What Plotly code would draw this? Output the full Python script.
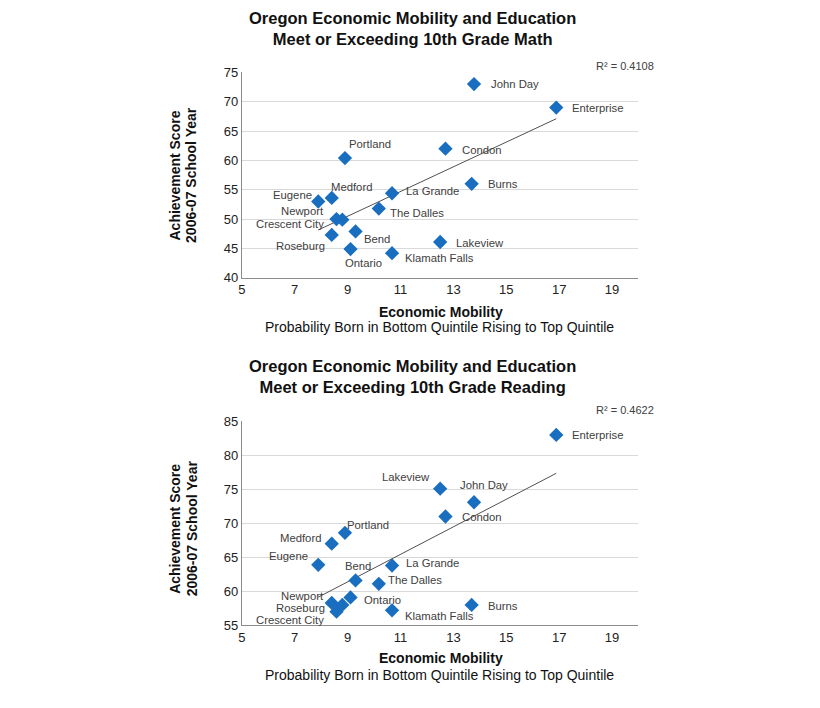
import numpy as np
import plotly.graph_objects as go

# ---------------- data ----------------
cities = ["John Day", "Enterprise", "Condon", "Portland", "Burns", "La Grande",
          "Medford", "Eugene", "The Dalles", "Newport", "Crescent City",
          "Roseburg", "Bend", "Ontario", "Klamath Falls", "Lakeview"]
mobility = [13.78, 16.89, 12.70, 8.90, 13.69, 10.68,
            8.40, 7.89, 10.18, 8.58, 8.80,
            8.40, 9.30, 9.11, 10.68, 12.50]
math_scores = [73.0, 69.0, 62.0, 60.4, 56.0, 54.4,
               53.6, 53.0, 51.8, 50.0, 49.9,
               47.3, 47.9, 44.9, 44.2, 46.1]
reading_scores = [73.1, 83.0, 71.0, 68.6, 58.0, 63.8,
                  67.0, 63.9, 61.1, 57.0, 58.0,
                  58.3, 61.6, 59.1, 57.2, 75.1]
x_ticks = [5, 7, 9, 11, 13, 15, 17, 19]
math_y_ticks = [40, 45, 50, 55, 60, 65, 70, 75]
reading_y_ticks = [55, 60, 65, 70, 75, 80, 85]
r2_math = "R² = 0.4108"
r2_reading = "R² = 0.4622"
title_math = "Oregon Economic Mobility and Education<br>Meet or Exceeding 10th Grade Math"
title_reading = "Oregon Economic Mobility and Education<br>Meet or Exceeding 10th Grade Reading"

# ---------------- label placement (style) ----------------
# (anchor, xshift px, yshift px)
math_lbl = {
    "John Day": ("left", 15, 0), "Enterprise": ("left", 14, 0),
    "Condon": ("left", 15, -1), "Portland": ("left", 2, 14),
    "Burns": ("left", 14, 0), "La Grande": ("left", 12, 2),
    "Medford": ("left", -3, 11), "Eugene": ("right", -4, 6),
    "The Dalles": ("left", 9, -4), "Newport": ("right", -11, 8),
    "Crescent City": ("right", -16, -4), "Roseburg": ("right", -5, -11),
    "Bend": ("left", 6, -8), "Ontario": ("center", 13, -14),
    "Klamath Falls": ("left", 11, -5), "Lakeview": ("left", 14, -1),
}
read_lbl = {
    "John Day": ("center", 10, 17), "Enterprise": ("left", 14, 0),
    "Condon": ("left", 15, 0), "Portland": ("left", 0, 8),
    "Burns": ("left", 14, -1), "La Grande": ("left", 12, 2),
    "Medford": ("right", -9, 6), "Eugene": ("right", -8, 9),
    "The Dalles": ("left", 7, 4), "Newport": ("right", -11, 16),
    "Crescent City": ("right", -16, -15), "Roseburg": ("right", -5, -5),
    "Bend": ("center", 2, 14), "Ontario": ("left", 11, -3),
    "Klamath Falls": ("left", 11, -6), "Lakeview": ("right", -8, 12),
}

W, H = 820, 708
FONT = "Liberation Sans, Arial, sans-serif"
BLUE = "#1a6ec0"
TXT = "#404040"


def px(x):
    return x / W


def py(y):
    return 1 - y / H


fig = go.Figure()

panels = [
    dict(scores=math_scores, xa="x", ya="y", lbl=math_lbl, r2=r2_math),
    dict(scores=reading_scores, xa="x2", ya="y2", lbl=read_lbl, r2=r2_reading),
]

annotations = []
for p in panels:
    xs = np.array(mobility)
    ys = np.array(p["scores"])
    slope, icpt = np.polyfit(xs, ys, 1)
    tx = np.array([xs.min(), xs.max()])
    fig.add_trace(go.Scatter(x=tx, y=slope * tx + icpt, mode="lines",
                             line=dict(color="#505050", width=1),
                             xaxis=p["xa"], yaxis=p["ya"], showlegend=False,
                             hoverinfo="skip"))
    fig.add_trace(go.Scatter(x=mobility, y=p["scores"], mode="markers",
                             marker=dict(symbol="diamond", size=11, color=BLUE,
                                         line=dict(width=0)),
                             text=cities, xaxis=p["xa"], yaxis=p["ya"],
                             showlegend=False))
    for c, xv, yv in zip(cities, mobility, p["scores"]):
        anc, dx, dy = p["lbl"][c]
        annotations.append(dict(x=xv, y=yv, xref=p["xa"], yref=p["ya"], text=c,
                                showarrow=False, xanchor=anc, yanchor="middle",
                                xshift=dx, yshift=dy,
                                font=dict(family=FONT, size=11.3, color=TXT)))

# titles
for ttl, y0 in [(title_math, 22), (title_reading, 378)]:
    annotations.append(dict(x=px(410), y=py(y0), xref="paper", yref="paper",
                            text="<b>" + ttl.replace("<br>", "</b><br><b>") + "</b>",
                            showarrow=False, xanchor="center", yanchor="middle",
                            font=dict(family=FONT, size=16.5, color="#111111")))
# R² labels
for r2, y0 in [(r2_math, 60), (r2_reading, 412)]:
    annotations.append(dict(x=px(655), y=py(y0), xref="paper", yref="paper",
                            text=r2, showarrow=False, xanchor="right",
                            yanchor="middle",
                            font=dict(family=FONT, size=11, color=TXT)))
# x axis titles
for y1, y2 in [(311.7, 327.3), (665.5, 682.5)]:
    annotations.append(dict(x=px(439), y=py(y1), xref="paper", yref="paper",
                            text="<b>Economic Mobility</b>", showarrow=False,
                            xanchor="center", yanchor="middle",
                            font=dict(family=FONT, size=14, color="#111111")))
    annotations.append(dict(x=px(438), y=py(y2), xref="paper", yref="paper",
                            text="Probability Born in Bottom Quintile Rising to Top Quintile",
                            showarrow=False, xanchor="center", yanchor="middle",
                            font=dict(family=FONT, size=14, color="#111111")))
# y axis titles
for yc in [172, 533]:
    annotations.append(dict(x=px(172), y=py(yc), xref="paper", yref="paper",
                            text="<b>Achievement Score</b>", showarrow=False,
                            textangle=-90, xanchor="center", yanchor="middle",
                            font=dict(family=FONT, size=14, color="#111111")))
    annotations.append(dict(x=px(188.5), y=py(yc), xref="paper", yref="paper",
                            text="<b>2006-07 School Year</b>", showarrow=False,
                            textangle=-90, xanchor="center", yanchor="middle",
                            font=dict(family=FONT, size=14, color="#111111")))

xdom = [px(239), px(637.6)]
axis_common = dict(showline=True, linecolor="#8c8c8c", linewidth=1,
                   ticks="", tickfont=dict(family=FONT, size=13, color="#222222"),
                   zeroline=False)
fig.update_layout(
    width=W, height=H, margin=dict(l=0, r=0, t=0, b=0),
    paper_bgcolor="white", plot_bgcolor="white",
    showlegend=False, annotations=annotations,
    xaxis=dict(domain=xdom, range=[5, 20], tickvals=x_ticks, showgrid=False,
               anchor="y", **axis_common),
    yaxis=dict(domain=[py(276.7), py(66.7)], range=[40, 75], tickvals=math_y_ticks,
               showgrid=True, gridcolor="#d9d9d9", anchor="x", **axis_common),
    xaxis2=dict(domain=xdom, range=[5, 20], tickvals=x_ticks, showgrid=False,
                anchor="y2", **axis_common),
    yaxis2=dict(domain=[py(631.7), py(423.3)], range=[55, 85], tickvals=reading_y_ticks,
                showgrid=True, gridcolor="#d9d9d9", anchor="x2", **axis_common),
)

fig.write_html(
    "out.html",
    config={"displayModeBar": False},
    post_script=(
        "document.documentElement.style.margin='0';"
        "document.documentElement.style.overflow='hidden';"
        "document.body.style.margin='0';"
        "document.body.style.padding='0';"
        "document.body.style.overflow='hidden';"
        "var d=document.getElementById('{plot_id}');"
        "d.style.position='absolute';d.style.top='0px';d.style.left='0px';"
    ),
)
